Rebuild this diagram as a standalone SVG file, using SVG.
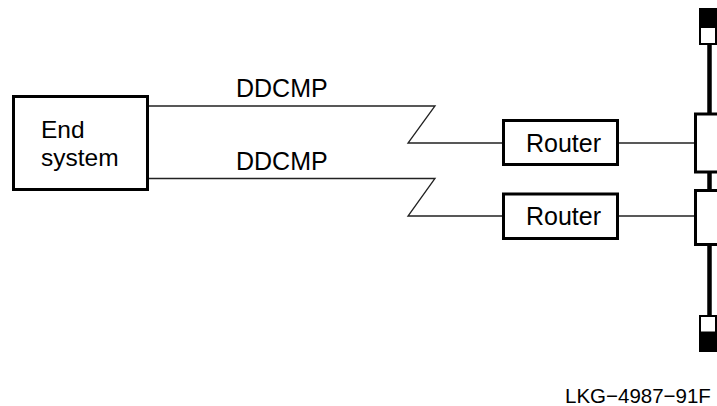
<svg xmlns="http://www.w3.org/2000/svg" width="717" height="406" viewBox="0 0 717 406">
<style>
.box{fill:#fff;stroke:#000;stroke-width:3}
.ln{fill:none;stroke:#222;stroke-width:1.3}
.t{font-family:"Liberation Sans",Arial,sans-serif;font-size:25px;fill:#000}
.bus{fill:none;stroke:#000;stroke-width:4.5}
</style>
<rect width="717" height="406" fill="#fff"/>
<g id="connectors">
<polyline class="ln" points="149,106 435,106 408,143 502,143"/>
<polyline class="ln" points="149,178.5 435,178.5 408,216 502,216"/>
<line class="ln" x1="619" y1="143" x2="695" y2="143"/>
<line class="ln" x1="619" y1="216" x2="695" y2="216"/>
<text class="t" x="236" y="97">DDCMP</text>
<text class="t" x="236" y="170">DDCMP</text>
</g>
<g id="end-system">
<rect class="box" x="13.5" y="96.5" width="134" height="93"/>
<text class="t" x="41" y="138" style="font-size:24.5px">End</text>
<text class="t" x="41" y="166" style="font-size:24.5px">system</text>
</g>
<g id="router1">
<rect class="box" x="503.5" y="120.5" width="114" height="44"/>
<text class="t" x="526" y="152">Router</text>
</g>
<g id="router2">
<rect class="box" x="503.5" y="194" width="114" height="44.5"/>
<text class="t" x="526" y="225">Router</text>
</g>
<g id="bus">
<line class="bus" x1="709.5" y1="44" x2="709.5" y2="316"/>
<rect x="699" y="8" width="20" height="37" fill="#000"/>
<rect x="701" y="28" width="14" height="15" fill="#fff"/>
<rect x="699" y="315" width="20" height="37" fill="#000"/>
<rect x="701" y="317" width="14" height="14.5" fill="#fff"/>
<rect class="box" x="695.5" y="114" width="30" height="58" stroke-width="3.5"/>
<rect class="box" x="695.5" y="190.5" width="30" height="54" stroke-width="3.5"/>
</g>
<g id="label">
<text class="t" x="565" y="403" style="font-size:20.5px">LKG−4987−91F</text>
</g>
</svg>
